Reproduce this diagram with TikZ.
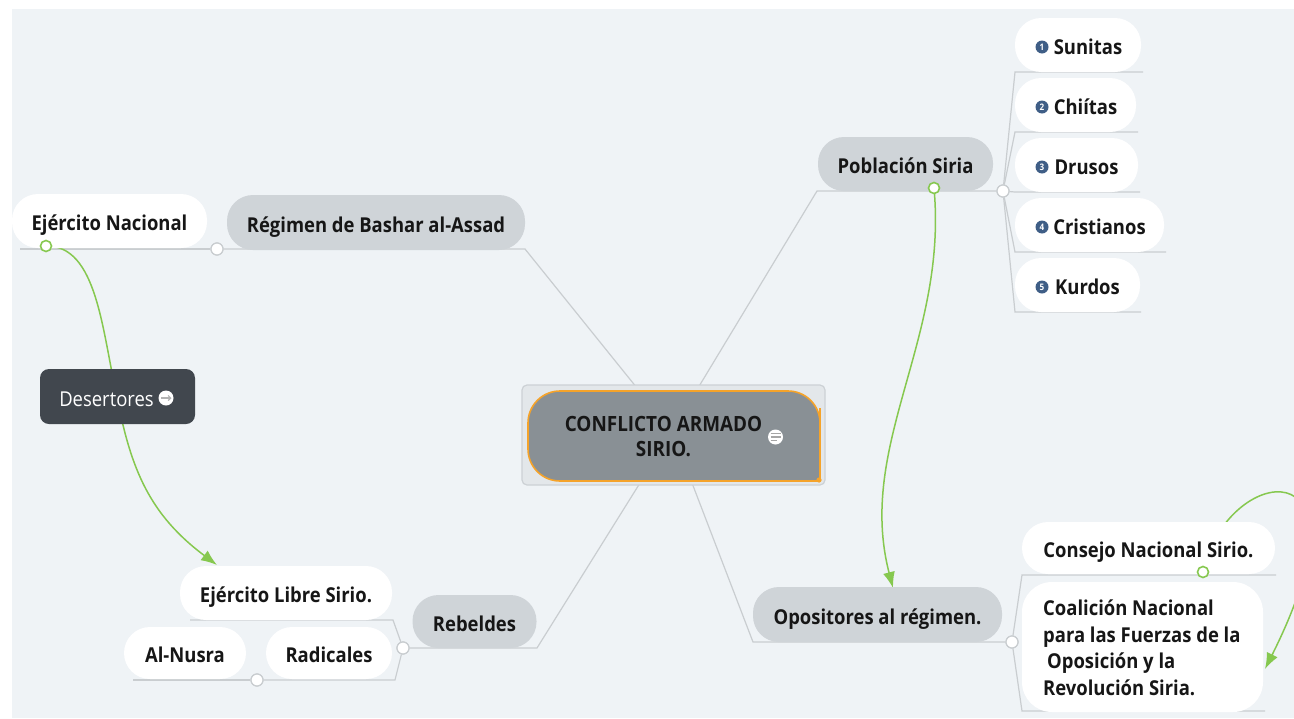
\documentclass[tikz,border=0pt]{standalone}
\usepackage{fontspec}
\setmainfont{Open Sans}[FakeStretch=0.9]
\usetikzlibrary{arrows.meta}
\definecolor{bgc}{HTML}{EFF3F6}
\definecolor{pillgray}{HTML}{CFD4D8}
\definecolor{linegray}{HTML}{C9CDD0}
\definecolor{lgreen}{HTML}{86C84F}
\definecolor{darkbox}{HTML}{41474E}
\definecolor{txt}{HTML}{161616}
\definecolor{rootouter}{HTML}{E3E7EA}
\definecolor{rootborder}{HTML}{CCD1D5}
\definecolor{rootfill}{HTML}{899095}
\definecolor{orangeb}{HTML}{F5A32A}
\definecolor{numblue}{HTML}{3F5E86}
\tikzset{
  pill/.style={rounded corners=26pt, minimum height=54pt, inner sep=0pt,
    text height=19pt, text depth=0pt,
    font=\fontsize{20.5}{24}\selectfont\bfseries, text=txt},
  wpill/.style={pill, fill=white},
  gpill/.style={pill, fill=pillgray},
  conn/.style={draw=linegray, line width=1.2pt},
  jdot/.style={circle, draw=linegray, fill=white, line width=1.2pt, minimum size=12pt, inner sep=0pt},
  gdot/.style={circle, draw=lgreen, fill=white, line width=1.6pt, minimum size=11pt, inner sep=0pt},
  rel/.style={draw=lgreen, line width=1.5pt},
  relarrow/.style={rel, -{Latex[length=16pt,width=12pt]}},
  numicon/.style={circle, fill=numblue, inner sep=0pt, minimum size=13pt, text=white,
    font=\fontsize{9}{9}\selectfont\bfseries},
}
\begin{document}
\begin{tikzpicture}[x=1pt,y=-1pt]
\useasboundingbox (0,0) rectangle (1294,718);
\fill[white] (0,0) rectangle (1294,718);
\fill[bgc] (12,9) rectangle (1294,718);

% ---------- junction coordinates
\coordinate (rootTL) at (637,388);
\coordinate (rootTR) at (698,388);
\coordinate (rootBL) at (640,483);
\coordinate (rootBR) at (692,483);
\coordinate (regC) at (525,249);
\coordinate (pobC) at (817,191);
\coordinate (rebC) at (537,648);
\coordinate (opoC) at (753,642);

% ---------- grey connectors
\node[jdot] (jEN) at (217,249) {};
\node[jdot] (jPob) at (1003,191) {};
\node[jdot] (jReb) at (403,648) {};
\node[jdot] (jRad) at (257,680) {};
\node[jdot] (jOpo) at (1012,642) {};

\draw[conn] (rootTL) -- (regC) -- (jEN);
\draw[conn] (jEN) -- (20,249);
\draw[conn] (rootTR) -- (pobC) -- (jPob);
\draw[conn] (jPob) -- (1015,72) -- (1143,72);
\draw[conn] (jPob) -- (1015,132) -- (1138,132);
\draw[conn] (jPob) -- (1015,192) -- (1140,192);
\draw[conn] (jPob) -- (1015,252) -- (1166,252);
\draw[conn] (jPob) -- (1015,312) -- (1141,312);
\draw[conn] (rootBL) -- (rebC) -- (jReb);
\draw[conn] (jReb) -- (393,620) -- (190,620);
\draw[conn] (jReb) -- (395,680) -- (jRad);
\draw[conn] (jRad) -- (133,680);
\draw[conn] (rootBR) -- (opoC) -- (jOpo);
\draw[conn] (jOpo) -- (1022,575) -- (1276,575);
\draw[conn] (jOpo) -- (1022,711) -- (1265,711);
\node[jdot] at (jEN) {};
\node[jdot] at (jPob) {};
\node[jdot] at (jReb) {};
\node[jdot] at (jRad) {};
\node[jdot] at (jOpo) {};

% ---------- green relationship curves (under the nodes)
\coordinate (enDot) at (46,246);
\coordinate (pobDot) at (934,188);
\coordinate (conDot) at (1203,572);
\coordinate (elsTip) at (217,565);
\coordinate (opoTip) at (893,588);
\coordinate (coaTip) at (1265,669);
\coordinate (desMid) at (117,397);
\draw[rel] (enDot) .. controls (97,245) and (102,330) .. (desMid);
\draw[relarrow] (desMid) .. controls (131,470) and (150,515) .. (elsTip);
\draw[relarrow] (pobDot) .. controls (948,340) and (856,445) .. (opoTip);
\begin{scope}
\clip (0,0) rectangle (1294,718);
\draw[relarrow] (conDot) .. controls (1225,465) and (1380,440) .. (coaTip);
\end{scope}

% ---------- central topic
\node[draw=rootborder, fill=rootouter, line width=1.2pt, rounded corners=5pt,
      minimum width=303pt, minimum height=100pt, inner sep=0pt] (root) at (673.5,435) {};
\fill[rootfill] [rounded corners=32pt] (674,481) -- (528,481) -- (528,391) -- (820,391) -- (820,440) [sharp corners] -- (820,481) -- cycle;
\draw[orangeb, line width=1.6pt] [rounded corners=32pt] (674,481) -- (528,481) -- (528,391) -- (820,391) -- (820,440) [sharp corners] -- (820,481) -- cycle;
\fill[orangeb] (819,480) circle (2.6pt);
\node[font=\fontsize{21}{25}\selectfont\bfseries, text=txt, align=center, inner sep=0pt] (rootText) at (663.5,437) {CONFLICTO ARMADO\\SIRIO.};
\node[circle, fill=white, minimum size=15pt, inner sep=0pt] (noteIcon) at (775.5,437) {};
\draw[gray!70, line width=1.1pt] (770.5,433.5) -- (780.5,433.5) (770.5,437) -- (780.5,437) (770.5,440.5) -- (776.5,440.5);

% ---------- left branch
\node[gpill, minimum width=298pt, minimum height=55pt] (regimen) at (376,222.5) {Régimen de Bashar al-Assad};
\node[wpill, minimum width=195pt] (ejnac) at (109.5,221) {Ejército Nacional};
\node[gdot] at (enDot) {};
\node[fill=darkbox, rounded corners=9pt, minimum width=155pt, minimum height=55pt, inner sep=0pt,
      text=white, text height=19pt, text depth=0pt, font=\fontsize{20.5}{24}\selectfont] (desert) at (117.5,396.5) {Desertores\kern22pt};
\node[circle, fill=white, minimum size=15pt, inner sep=0pt] (desIcon) at (166,398) {};
\draw[gray!60, line width=1.2pt, -{Straight Barb[length=2.5pt,width=5pt]}] (161,398) -- (171.5,398);

% ---------- rebels branch
\node[wpill, minimum width=212pt] (ejlib) at (286,593) {Ejército Libre Sirio.};
\node[gpill, minimum width=124pt, minimum height=53pt] (rebeldes) at (474.5,621.5) {Rebeldes};
\node[wpill, minimum width=122pt, minimum height=52pt] (alnusra) at (185,653) {Al-Nusra};
\node[wpill, minimum width=126pt, minimum height=52pt] (radicales) at (329,653) {Radicales};

% ---------- population branch
\node[gpill, minimum width=175pt] (poblacion) at (905.5,164) {Población Siria};
\node[gdot] at (pobDot) {};
\node[wpill, minimum width=126pt] (sunitas) at (1078,45) {\hspace{20pt}Sunitas};
\node[wpill, minimum width=121pt] (chiitas) at (1075.5,105) {\hspace{20pt}Chiítas};
\node[wpill, minimum width=123pt] (drusos) at (1076.5,165) {\hspace{20pt}Drusos};
\node[wpill, minimum width=149pt] (cristianos) at (1089.5,225) {\hspace{20pt}Cristianos};
\node[wpill, minimum width=125pt] (kurdos) at (1077.5,285) {\hspace{20pt}Kurdos};
\node[numicon] (n1) at (1042,47) {1};
\node[numicon] (n2) at (1042,107) {2};
\node[numicon] (n3) at (1042,167) {3};
\node[numicon] (n4) at (1042,227) {4};
\node[numicon] (n5) at (1042,287) {5};

% ---------- opposition branch
\node[gpill, minimum width=249pt, minimum height=55pt] (opositores) at (877.5,614.5) {Opositores al régimen.};
\node[wpill, minimum width=253pt, minimum height=52pt] (consejo) at (1148.5,548) {Consejo Nacional Sirio.};
\node[gdot] at (conDot) {};
\node[fill=white, rounded corners=30pt, minimum width=241pt, minimum height=130pt, inner sep=0pt] (coalicion) at (1142.5,647) {};
\node[anchor=north west, inner sep=0pt, align=left, text=txt,
      font=\fontsize{20.5}{26.7}\selectfont\bfseries] (coaText) at (1043,599.5) {Coalición Nacional\\para las Fuerzas de la\\\hspace{4pt}Oposición y la\\Revolución Siria.};
\end{tikzpicture}
\end{document}
